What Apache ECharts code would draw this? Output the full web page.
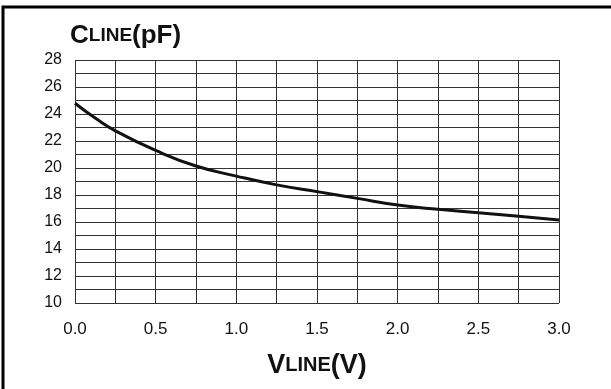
<!DOCTYPE html>
<html>
<head>
<meta charset="utf-8">
<script src="https://cdn.jsdelivr.net/npm/echarts@6/dist/echarts.min.js"></script>
<style>
  html, body { margin: 0; padding: 0; background: #fff; }
  #chart { width: 611px; height: 389px; }
</style>
</head>
<body>
<div id="chart"></div>
<script>
// line voltage (V) vs line capacitance (pF)
var vLine = [0, 0.125, 0.25, 0.5, 0.75, 1.0, 1.25, 1.5, 1.75, 2.0, 2.25, 2.5, 2.75, 3.0];
var cLine = [24.8, 23.7, 22.75, 21.3, 20.15, 19.4, 18.75, 18.25, 17.75, 17.26, 16.94, 16.69, 16.42, 16.15];
var xTicks = [0, 0.5, 1.0, 1.5, 2.0, 2.5, 3.0];
var yTicks = [10, 12, 14, 16, 18, 20, 22, 24, 26, 28];

(function(){
  var myChart = echarts.init(document.getElementById('chart'));
  var font = '"Liberation Sans", Arial, sans-serif';
  var gridLine = { color: '#333', width: 1 };
  var points = vLine.map(function (v, i) { return [v, cLine[i]]; });

  var option = {
    animation: false,
    backgroundColor: '#fff',
    title: {
      text: '{a|C}{b|LINE}{a|(pF)}',
      left: 70,
      top: 23,
      padding: 0,
      textStyle: {
        rich: {
          a: { fontFamily: font, fontWeight: 'bold', fontSize: 26, color: '#111' },
          b: { fontFamily: font, fontWeight: 'bold', fontSize: 19, color: '#111' }
        }
      }
    },
    graphic: [{
      type: 'polyline',
      shape: { points: [[3, 389], [3, 7], [611, 7]] },
      style: { stroke: '#000', lineWidth: 3, fill: null }
    }],
    grid: { left: 75, right: 52, top: 60, bottom: 86 },
    xAxis: {
      type: 'value',
      min: xTicks[0],
      max: xTicks[xTicks.length - 1],
      interval: 0.5,
      name: '{a|V}{b|LINE}{a|(V)}',
      nameLocation: 'middle',
      nameGap: 49,
      nameTextStyle: {
        rich: {
          a: { fontFamily: font, fontWeight: 'bold', fontSize: 27, color: '#111' },
          b: { fontFamily: font, fontWeight: 'bold', fontSize: 20, color: '#111' }
        }
      },
      axisLine: { show: false },
      axisTick: { show: false },
      minorTick: { show: false, splitNumber: 2 },
      axisLabel: {
        margin: 18,
        fontFamily: font,
        fontSize: 17,
        color: '#111',
        formatter: function (v) { return v.toFixed(1); }
      },
      splitLine: { show: true, lineStyle: gridLine },
      minorSplitLine: { show: true, lineStyle: gridLine }
    },
    yAxis: {
      type: 'value',
      min: yTicks[0],
      max: yTicks[yTicks.length - 1],
      interval: 2,
      axisLine: { show: false },
      axisTick: { show: false },
      minorTick: { show: false, splitNumber: 2 },
      axisLabel: {
        margin: 13,
        fontFamily: font,
        fontSize: 16,
        color: '#111'
      },
      splitLine: { show: true, lineStyle: gridLine },
      minorSplitLine: { show: true, lineStyle: gridLine }
    },
    series: [{
      type: 'line',
      data: points,
      smooth: true,
      showSymbol: false,
      lineStyle: { color: '#111', width: 3 }
    }]
  };
  myChart.setOption(option);
})();
</script>
</body>
</html>
